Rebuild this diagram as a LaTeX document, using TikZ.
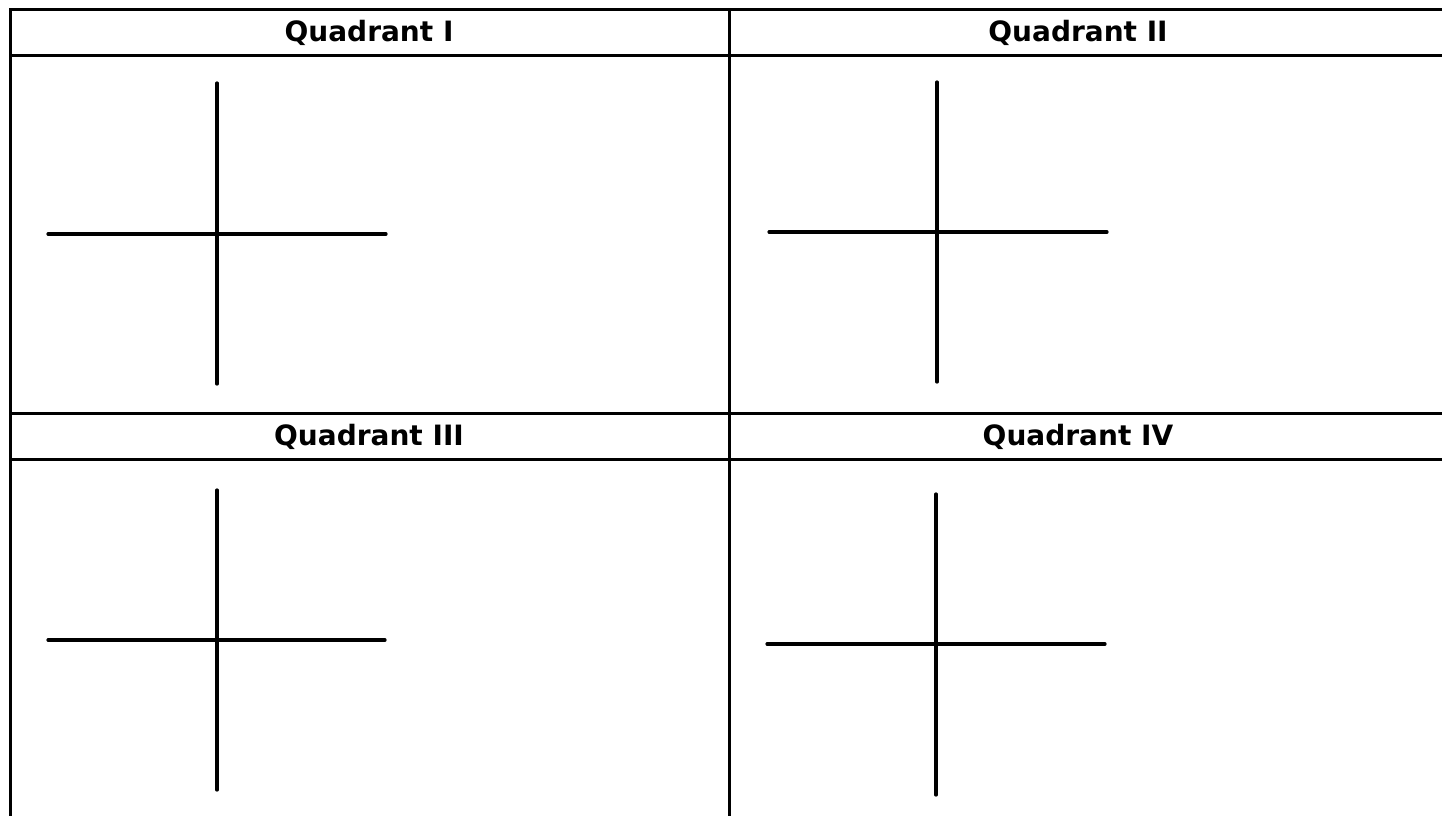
\documentclass[tikz,border=0pt]{standalone}
\usepackage{fontspec}
\setmainfont{DejaVu Sans}
\usetikzlibrary{positioning}

\begin{document}
\begin{tikzpicture}[x=1pt,y=-1pt,
  rule/.style={line width=3pt},
  axis/.style={line width=3.2pt,line cap=round},
  head/.style={font=\fontsize{28}{32}\selectfont\bfseries,inner sep=0pt,anchor=base}]
\useasboundingbox (0,0) rectangle (1442,816);
% table rules
\draw[rule] (1442,10) -- (10,10) -- (10,816);
\draw[rule] (10,56) -- (1442,56);
\draw[rule] (10,413) -- (1442,413);
\draw[rule] (10,459) -- (1442,459);
\draw[rule] (729,10) -- (729,816);
% headings
\node[head] (hI) at (369,42) {Quadrant I};
\node[head] (hII) at (1078,42) {Quadrant II};
\node[head] (hIII) at (369,445) {Quadrant III};
\node[head] (hIV) at (1078,445) {Quadrant IV};
% axes
\foreach \n/\cx/\cy/\l/\r/\t/\b in {1/217/234/48/386/83/384,
    2/937/232/769/1107/82/382,
    3/217/640/48/385/490/790,
    4/936/644/767/1105/494/795}{
  \coordinate (w\n) at (\l,\cy);
  \coordinate (e\n) at (\r,\cy);
  \coordinate (n\n) at (\cx,\t);
  \coordinate (s\n) at (\cx,\b);
  \draw[axis] (w\n) -- (e\n);
  \draw[axis] (n\n) -- (s\n);
}
\end{tikzpicture}
\end{document}
